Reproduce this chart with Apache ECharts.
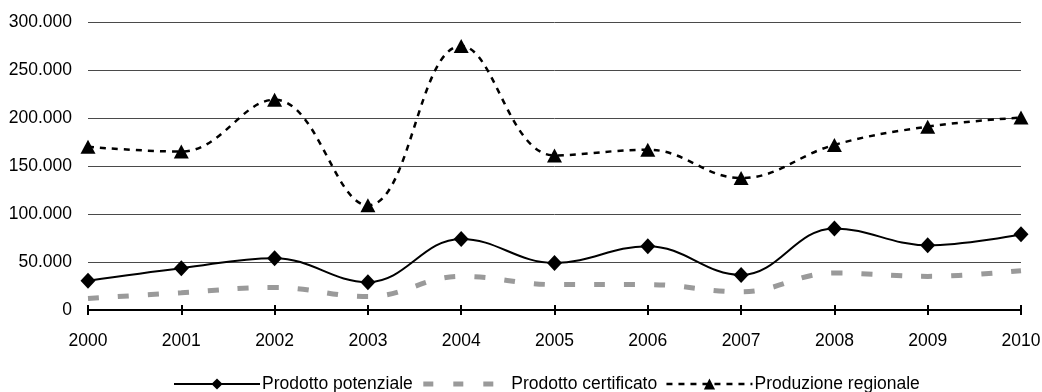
<!DOCTYPE html>
<html>
<head>
<meta charset="utf-8">
<script src="https://cdn.jsdelivr.net/npm/echarts@6/dist/echarts.min.js"></script>
<style>
html,body{margin:0;padding:0;background:#fff;}
#chart{width:1042px;height:392px;}
</style>
</head>
<body>
<div id="chart"></div>
<script>
const years = ['2000','2001','2002','2003','2004','2005','2006','2007','2008','2009','2010'];
const prodottoPotenziale = [30500, 43500, 54000, 29000, 74000, 49000, 66500, 36500, 85000, 67500, 79000];
const prodottoCertificato = [12000, 18000, 23500, 14000, 35000, 26500, 26500, 19000, 38500, 35000, 41000];
const produzioneRegionale = [170000, 165000, 219000, 109000, 275000, 161000, 167000, 137500, 172000, 191000, 200500];
const seriesNames = ['Prodotto potenziale', 'Prodotto certificato', 'Produzione regionale'];

const FONT = '"Liberation Sans", Arial, sans-serif';
function fmt(v){
  return String(Math.round(v)).replace(/\B(?=(\d{3})+(?!\d))/g, '.');
}
const chart = echarts.init(document.getElementById('chart'), null, {renderer:'canvas'});
chart.setOption({
  animation:false,
  backgroundColor:'#ffffff',
  grid:{left:88, right:21, top:22, bottom:82, containLabel:false, outerBoundsMode:'none'},
  legend:{
    top:375, left:173, padding:0,
    itemWidth:86, itemHeight:14, itemGap:8,
    lineStyle:{width:'inherit'},
    textStyle:{fontFamily:FONT, fontSize:17.5, color:'#000', padding:[0,0,0,-3]},
    data:[
      {name:seriesNames[0]},
      {name:seriesNames[1], itemStyle:{color:'rgba(0,0,0,0)', borderWidth:0, opacity:0}, lineStyle:{width:5, type:[10,20]}},
      {name:seriesNames[2]}
    ]
  },
  xAxis:[{
    type:'category', data:years, boundaryGap:false,
    axisLine:{lineStyle:{color:'#000', width:2}},
    axisTick:{show:true, length:5, lineStyle:{color:'#000', width:2}},
    axisLabel:{fontFamily:FONT, fontSize:17.5, color:'#000', margin:22}
  },{
    type:'category', data:years, boundaryGap:false, position:'bottom',
    axisLine:{show:false},
    axisTick:{show:true, inside:true, length:5, lineStyle:{color:'#000', width:2}},
    axisLabel:{show:false}
  }],
  yAxis:{
    type:'value', min:0, max:300000, interval:50000,
    axisLine:{show:false}, axisTick:{show:false},
    splitLine:{lineStyle:{color:'#4a4a4a', width:1}},
    axisLabel:{fontFamily:FONT, fontSize:17.5, color:'#000', margin:16, formatter:fmt}
  },
  series:[{
    name:seriesNames[0], type:'line', data:prodottoPotenziale, smooth:0.4,
    symbol:'diamond', symbolSize:[15,16],
    lineStyle:{color:'#000', width:2},
    itemStyle:{color:'#000'}, z:4
  },{
    name:seriesNames[1], type:'line', data:prodottoCertificato, smooth:0.4,
    symbol:'none', showSymbol:false,
    lineStyle:{color:'#9a9a9a', width:5, type:[11,19]},
    itemStyle:{color:'#9a9a9a'}, z:3
  },{
    name:seriesNames[2], type:'line', data:produzioneRegionale, smooth:0.4,
    symbol:'triangle', symbolSize:[15,14],
    lineStyle:{color:'#000', width:2.5, type:[6,6]},
    itemStyle:{color:'#000'}, z:5
  }]
});
</script>
</body>
</html>
